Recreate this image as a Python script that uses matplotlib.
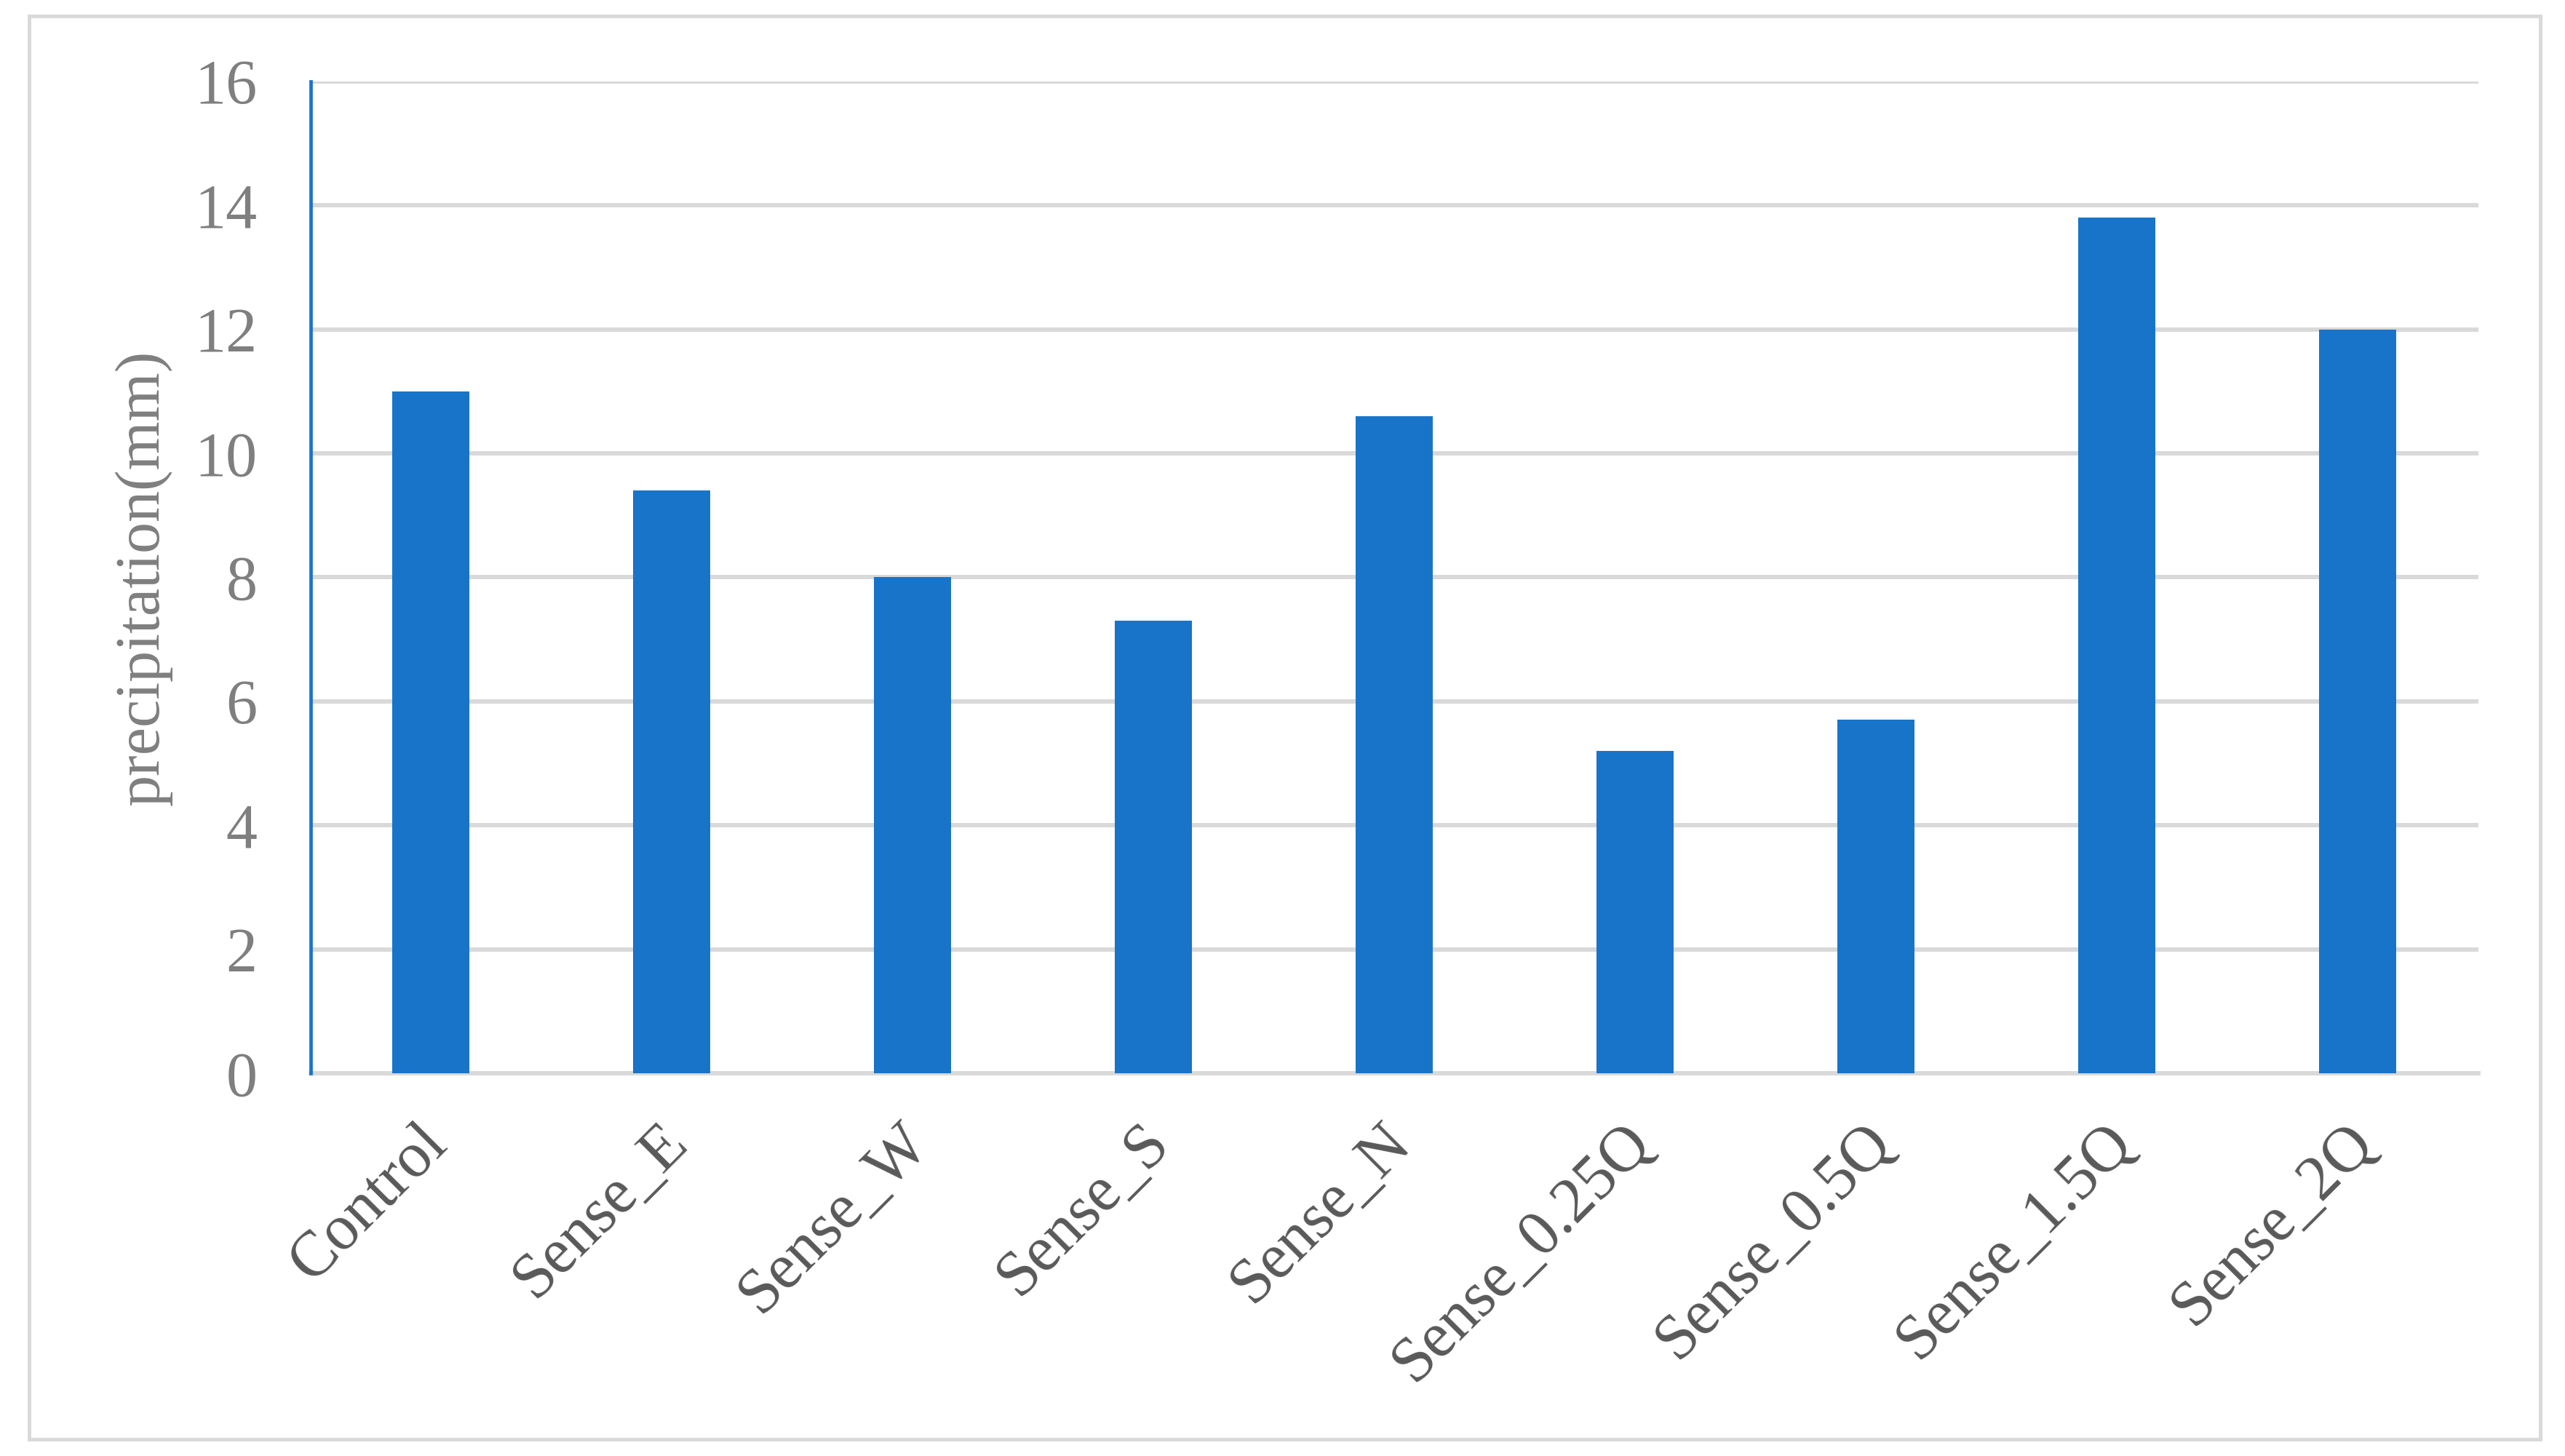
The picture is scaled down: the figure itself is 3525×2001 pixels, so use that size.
import matplotlib
matplotlib.use('Agg')
import matplotlib.pyplot as plt
from matplotlib.patches import Rectangle
from matplotlib.transforms import ScaledTranslation

categories = ['Control', 'Sense_E', 'Sense_W', 'Sense_S', 'Sense_N',
              'Sense_0.25Q', 'Sense_0.5Q', 'Sense_1.5Q', 'Sense_2Q']
precip = [11.0, 9.4, 8.0, 7.3, 10.6, 5.2, 5.7, 13.8, 12.0]
yticks = [0, 2, 4, 6, 8, 10, 12, 14, 16]

bar_color = '#1874c9'
grid_color = '#d9d9d9'

plt.rcParams['font.family'] = ['Liberation Serif', 'DejaVu Serif']

fig = plt.figure(figsize=(35.25, 20.01), dpi=100)
ax = fig.add_axes([0.1211, 0.2629, 0.9662 - 0.1211, 0.944 - 0.2629])

x = list(range(len(categories)))
ax.bar(x, precip, width=0.32, color=bar_color, zorder=3)

ax.set_xlim(-0.5, len(categories) - 0.5)
ax.set_ylim(0, 16)
ax.set_yticks(yticks)
ax.set_yticklabels([str(t) for t in yticks], fontsize=62, color='#7f7f7f')
ax.set_xticks(x)
ax.set_xticklabels(categories, rotation=45, ha='right', rotation_mode='anchor',
                   fontsize=63, color='#595959')

ax.tick_params(axis='y', length=0, pad=53)
ax.tick_params(axis='x', length=0, pad=30)

# nudge the slanted labels a bit left/down
shift = ScaledTranslation(-0.20, -0.13, fig.dpi_scale_trans)
for lbl in ax.get_xticklabels():
    lbl.set_transform(lbl.get_transform() + shift)

ax.grid(True, axis='y', color=grid_color, linewidth=4.3, zorder=0)
ax.set_axisbelow(True)

for s in ['top', 'right']:
    ax.spines[s].set_visible(False)
ax.spines['bottom'].set_color(grid_color)
ax.spines['bottom'].set_linewidth(4.3)
ax.spines['left'].set_color(bar_color)
ax.spines['left'].set_linewidth(3.4)
ax.spines['left'].set_zorder(4)

ax.set_ylabel('precipitation(mm)', fontsize=62, color='#7f7f7f')
ax.yaxis.set_label_coords(-0.064, 0.5)

# light grey frame around the whole chart
fig.patches.append(Rectangle((0.0113, 0.0115), 0.979, 0.9775, transform=fig.transFigure,
                             fill=False, edgecolor=grid_color, linewidth=3.6))

fig.savefig('out.png', dpi=100, facecolor='white')
